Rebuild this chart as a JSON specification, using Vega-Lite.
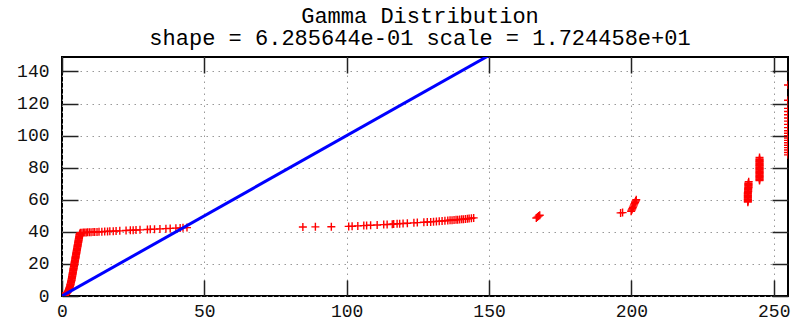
{
  "$schema": "https://vega.github.io/schema/vega-lite/v6.json",
  "width": 726,
  "height": 239,
  "autosize": {"type": "none"},
  "padding": {"left": 62, "top": 57, "right": 3, "bottom": 31},
  "background": "white",
  "config": {
    "view": {"stroke": "#000", "strokeWidth": 2},
    "font": "Liberation Mono"
  },
  "title": {
    "text": ["Gamma Distribution", "shape = 6.285644e-01 scale = 1.724458e+01"],
    "font": "Liberation Mono",
    "fontSize": 22,
    "fontWeight": "normal",
    "color": "#000",
    "lineHeight": 22.3,
    "baseline": "bottom",
    "offset": -16,
    "anchor": "middle",
    "dx": -5
  },
  "datasets": {
    "pts": [
      {"x":0,"y":0},{"x":0.4,"y":0},{"x":0.8,"y":0.2},{"x":1.1,"y":0.5},{"x":1.4,"y":1},{"x":1.6,"y":1.5},{"x":1.8,"y":2},{"x":2.0,"y":2.5},{"x":2.1,"y":3},{"x":2.25,"y":3.5},{"x":2.4,"y":4},{"x":2.5,"y":4.5},{"x":2.6,"y":5},{"x":2.7,"y":5.5},{"x":2.8,"y":6},{"x":2.9,"y":6.5},{"x":2.95,"y":7},{"x":3.0,"y":7.5},{"x":3.1,"y":8},{"x":3.15,"y":8.5},{"x":3.2,"y":9},{"x":3.3,"y":9.5},{"x":3.35,"y":10},{"x":3.4,"y":10.5},{"x":3.45,"y":11},{"x":3.5,"y":11.5},{"x":3.55,"y":12},{"x":3.6,"y":12.5},{"x":3.65,"y":13},{"x":3.7,"y":13.5},{"x":3.75,"y":14},{"x":3.8,"y":14.5},{"x":3.85,"y":15},{"x":3.9,"y":15.5},{"x":3.95,"y":16},{"x":4.0,"y":16.5},{"x":4.05,"y":17},{"x":4.1,"y":17.5},{"x":4.15,"y":18},{"x":4.2,"y":18.5},{"x":4.25,"y":19},{"x":4.3,"y":19.5},{"x":4.35,"y":20},{"x":4.4,"y":20.5},{"x":4.45,"y":21},{"x":4.5,"y":21.5},{"x":4.55,"y":22},{"x":4.6,"y":22.5},{"x":4.65,"y":23},{"x":4.7,"y":23.5},{"x":4.75,"y":24},{"x":4.8,"y":24.5},{"x":4.85,"y":25},{"x":4.9,"y":25.5},{"x":4.95,"y":26},{"x":5.0,"y":26.5},{"x":5.05,"y":27},{"x":5.1,"y":27.5},{"x":5.15,"y":28},{"x":5.2,"y":28.5},{"x":5.25,"y":29},{"x":5.3,"y":29.5},{"x":5.35,"y":30},{"x":5.4,"y":30.5},{"x":5.45,"y":31},{"x":5.5,"y":31.5},{"x":5.55,"y":32},{"x":5.6,"y":32.5},{"x":5.65,"y":33},{"x":5.7,"y":33.5},{"x":5.75,"y":34},{"x":5.8,"y":34.5},{"x":5.85,"y":35},{"x":5.9,"y":35.5},{"x":5.95,"y":36},{"x":6.0,"y":36.5},{"x":6.05,"y":37},{"x":6.1,"y":37.5},{"x":6.15,"y":38},{"x":6.2,"y":38.5},{"x":6.3,"y":39},{"x":6.5,"y":39.4},
      {"x":7.0,"y":39.5},{"x":7.5,"y":39.54},{"x":8,"y":39.59},{"x":8.5,"y":39.63},{"x":9,"y":39.67},{"x":9.6,"y":39.72},{"x":10.2,"y":39.77},{"x":10.9,"y":39.83},{"x":11.5,"y":39.88},{"x":12.3,"y":39.95},{"x":13,"y":40.01},{"x":14,"y":40.1},{"x":15,"y":40.18},{"x":16,"y":40.27},{"x":16.8,"y":40.33},{"x":18,"y":40.44},{"x":19,"y":40.52},{"x":20.3,"y":40.63},{"x":22.5,"y":40.82},{"x":24,"y":40.95},{"x":25,"y":41.03},{"x":26,"y":41.12},{"x":27.4,"y":41.23},{"x":30,"y":41.46},{"x":31,"y":41.54},{"x":32.5,"y":41.67},{"x":34.4,"y":41.83},{"x":36.5,"y":42.0},{"x":38,"y":42.14},{"x":40,"y":42.3},{"x":41.5,"y":42.43},{"x":42.5,"y":42.52},{"x":43.9,"y":42.64},
      {"x":84.6,"y":43.0},{"x":89,"y":43.1},{"x":94.6,"y":43.2},{"x":100.7,"y":43.4},{"x":101.9,"y":43.5},{"x":103.9,"y":43.7},{"x":106,"y":43.9},{"x":107,"y":44.0},{"x":108.4,"y":44.1},{"x":110.7,"y":44.3},{"x":113,"y":44.5},{"x":114.2,"y":44.6},{"x":116,"y":44.8},{"x":116.5,"y":44.85},{"x":117.7,"y":45.0},{"x":118.6,"y":45.1},{"x":119.8,"y":45.2},{"x":121.3,"y":45.4},{"x":123.6,"y":45.6},{"x":124.8,"y":45.75},{"x":127.1,"y":46.0},{"x":128.3,"y":46.1},{"x":129.5,"y":46.2},{"x":130.5,"y":46.35},{"x":131.5,"y":46.5},{"x":132.5,"y":46.65},{"x":133.5,"y":46.8},{"x":134.5,"y":46.95},{"x":135.5,"y":47.1},{"x":136.3,"y":47.2},{"x":137,"y":47.3},{"x":137.7,"y":47.4},{"x":138.4,"y":47.5},{"x":139,"y":47.6},{"x":139.7,"y":47.7},{"x":140.4,"y":47.8},{"x":141,"y":47.9},{"x":141.7,"y":48.0},{"x":142.4,"y":48.15},{"x":143,"y":48.3},{"x":143.8,"y":48.5},{"x":144.6,"y":48.7},
      {"x":166.6,"y":48.6},{"x":167.0,"y":49.2},{"x":167.4,"y":49.8},{"x":167.8,"y":50.3},
      {"x":196.2,"y":51.8},{"x":196.9,"y":52.0},
      {"x":199.9,"y":52.8},{"x":200.1,"y":53.6},{"x":200.3,"y":54.4},{"x":200.5,"y":55.2},{"x":200.7,"y":56.0},{"x":200.9,"y":56.8},{"x":201.1,"y":57.6},{"x":201.3,"y":58.4},{"x":201.5,"y":59.2},{"x":201.7,"y":60.0},
      {"x":240.9,"y":58.5},{"x":240.9,"y":59},{"x":240.9,"y":59.5},{"x":240.9,"y":60},{"x":240.9,"y":60.5},{"x":240.9,"y":61},{"x":240.9,"y":61.5},{"x":240.9,"y":62},{"x":240.9,"y":62.5},{"x":240.9,"y":63},{"x":240.9,"y":63.5},{"x":240.9,"y":64},{"x":240.9,"y":64.5},{"x":241.0,"y":65},{"x":241.0,"y":65.5},{"x":241.0,"y":66},{"x":241.0,"y":66.5},{"x":241.0,"y":67},{"x":241.1,"y":67.5},{"x":241.1,"y":68},{"x":241.1,"y":68.5},{"x":241.1,"y":69},{"x":241.1,"y":69.5},{"x":241.1,"y":70},{"x":241.1,"y":70.5},{"x":241.2,"y":71.3},
      {"x":245,"y":72},{"x":245,"y":72.5},{"x":245,"y":73},{"x":245,"y":73.5},{"x":245,"y":74},{"x":245,"y":74.5},{"x":245,"y":75},{"x":245,"y":75.5},{"x":245,"y":76},{"x":245,"y":76.5},{"x":245,"y":77},{"x":245,"y":77.5},{"x":245,"y":78},{"x":245,"y":78.5},{"x":245,"y":79},{"x":245,"y":79.5},{"x":245,"y":80},{"x":245,"y":80.5},{"x":245,"y":81},{"x":245,"y":81.5},{"x":245,"y":82},{"x":245,"y":82.5},{"x":245,"y":83},{"x":245,"y":83.5},{"x":245,"y":84},{"x":245,"y":84.5},{"x":245,"y":85},{"x":245,"y":85.5},{"x":245,"y":86.3},
      {"x":255,"y":88},{"x":255,"y":89.5},{"x":255,"y":91},{"x":255,"y":92.5},{"x":255,"y":94},{"x":255,"y":95.5},{"x":255,"y":97},{"x":255,"y":98.5},{"x":255,"y":100},{"x":255,"y":101.5},{"x":255,"y":103},{"x":255,"y":105},{"x":255,"y":107},{"x":255,"y":109},{"x":255,"y":111},{"x":255,"y":113},{"x":255,"y":115},{"x":255,"y":117},{"x":255,"y":122},{"x":255,"y":131.5}
    ],
    "ref": [{"x": 0, "y": 0}, {"x": 255, "y": 255}]
  },
  "layer": [
    {
      "data": {"name": "pts"},
      "mark": {"type": "point", "shape": "M-1,0L1,0M0,-1L0,1", "filled": false, "stroke": "#ff0000", "strokeWidth": 1.4, "size": 64, "opacity": 1, "clip": true},
      "encoding": {
        "x": {"field": "x", "type": "quantitative", "scale": {"domain": [0, 255], "nice": false, "zero": false},
          "axis": {"orient": "bottom", "title": null, "values": [0, 50, 100, 150, 200, 250], "domain": false,
            "grid": true, "gridColor": "#999", "gridDash": [1.5, 4.5], "gridWidth": 1,
            "ticks": true, "tickSize": -16, "tickColor": "#222", "tickWidth": 1.5,
            "labelFont": "Liberation Mono", "labelFontSize": 18, "labelColor": "#111", "labelPadding": 22, "labelFlush": false}},
        "y": {"field": "y", "type": "quantitative", "scale": {"domain": [0, 149], "nice": false, "zero": false},
          "axis": {"orient": "left", "title": null, "values": [0, 20, 40, 60, 80, 100, 120, 140], "domain": false,
            "grid": true, "gridColor": "#999", "gridDash": [1.5, 4.5], "gridWidth": 1,
            "ticks": true, "tickSize": -16, "tickColor": "#222", "tickWidth": 1.5,
            "labelFont": "Liberation Mono", "labelFontSize": 18, "labelColor": "#111", "labelPadding": 29, "labelFlush": false}}
      }
    },
    {
      "data": {"name": "ref"},
      "mark": {"type": "line", "color": "#0000ff", "strokeWidth": 3, "clip": true},
      "encoding": {
        "x": {"field": "x", "type": "quantitative", "scale": {"domain": [0, 255], "nice": false, "zero": false},
          "axis": {"orient": "top", "title": null, "values": [0, 50, 100, 150, 200, 250], "domain": false, "grid": false, "labels": false,
            "ticks": true, "tickSize": -16, "tickColor": "#222", "tickWidth": 1.5}},
        "y": {"field": "y", "type": "quantitative", "scale": {"domain": [0, 149], "nice": false, "zero": false},
          "axis": {"orient": "right", "title": null, "values": [0, 20, 40, 60, 80, 100, 120, 140], "domain": false, "grid": false, "labels": false,
            "ticks": true, "tickSize": -16, "tickColor": "#222", "tickWidth": 1.5}}
      }
    }
  ],
  "resolve": {"axis": {"x": "independent", "y": "independent"}}
}
